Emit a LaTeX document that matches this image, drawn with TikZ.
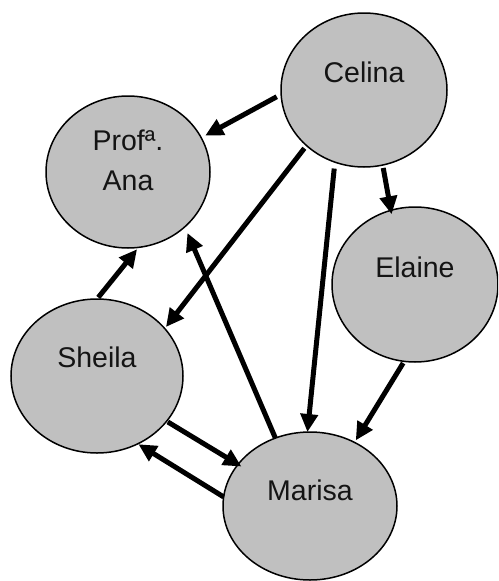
\documentclass[tikz,border=0pt]{standalone}
\usepackage{fontspec}
\setmainfont{Liberation Sans}
\usetikzlibrary{shapes.geometric,arrows.meta}
\definecolor{bubble}{RGB}{192,192,192}
\definecolor{ink}{RGB}{20,20,20}
\tikzset{
  person/.style={ellipse, draw=black, line width=1.5pt, fill=bubble,
    inner sep=0pt, outer sep=0pt},
  tag/.style={font=\fontsize{28.5}{40}\selectfont, text=ink, align=center,
    inner sep=0pt},
  link/.style={line width=5pt, -{Triangle[length=18pt,width=17pt]}}
}
\begin{document}
\begin{tikzpicture}[x=1pt,y=-1pt]
  \useasboundingbox (0,0) rectangle (498,581);
  \begin{scope}
  \clip (0,0) rectangle (498,581);
  % people
  \node[person, minimum width=166pt, minimum height=154pt,
        label={[tag, yshift=18pt]center:Celina}] (celina) at (364,90) {};
  \node[person, minimum width=164pt, minimum height=152pt,
        label={[tag, yshift=12pt]center:Profª.\\Ana}] (ana) at (128,172) {};
  \node[person, minimum width=166pt, minimum height=155pt,
        label={[tag, yshift=17pt]center:Elaine}] (elaine) at (415,284.5) {};
  \node[person, minimum width=172pt, minimum height=154pt,
        label={[tag, yshift=19pt]center:Sheila}] (sheila) at (97,376) {};
  \node[person, minimum width=174pt, minimum height=148pt,
        label={[tag, yshift=16pt]center:Marisa}] (marisa) at (310,506) {};
  \end{scope}
  % relations
  \draw[link, shorten <=5pt, shorten >=4.5pt] (celina.183.3) -- (ana.25.7);
  \draw[link, shorten <=3.5pt, shorten >=2pt] (celina.-136.9) -- (sheila.35.4);
  \draw[link, shorten <=6.5pt, shorten >=0pt] (celina.-112.3) -- (marisa.92.4);
  \draw[link, shorten <=3pt, shorten >=-4pt] (celina.-76.3) -- (elaine.108);
  \draw[link, shorten <=2pt, shorten >=2.4pt] (elaine.-98.7) -- (marisa.55.7);
  \draw[link, shorten <=0pt, shorten >=6.7pt] (marisa.117.2) -- (ana.-44.5);
  \draw[link, shorten <=2pt, shorten >=2.4pt] (sheila.90) -- (ana.-82.7);
  \draw[link, shorten <=1.4pt, shorten >=-4pt] (sheila.-33.9) -- (marisa.150.8);
  \draw[link, shorten <=0pt, shorten >=0.8pt] (marisa.174) -- (sheila.-59.9);
\end{tikzpicture}
\end{document}
